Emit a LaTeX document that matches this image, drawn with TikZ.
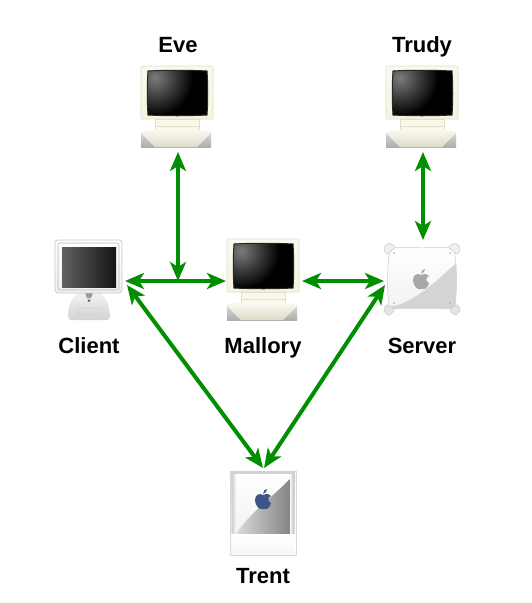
\documentclass[tikz,border=0pt]{standalone}
\usepackage{fontspec}
\setmainfont{Liberation Sans}
\usetikzlibrary{arrows.meta}
\definecolor{linkgreen}{HTML}{008F00}
\definecolor{cream}{HTML}{F6F3DF}
\definecolor{creamedge}{HTML}{E2DEC8}
\definecolor{applenavy}{HTML}{3F5585}
\tikzset{
  x=1pt,y=-1pt,
  label text/.style={font=\bfseries\fontsize{22}{24}\selectfont,text=black,inner sep=0pt,anchor=base},
  iconbox/.style={inner sep=0pt,outer sep=0pt,draw=none,minimum width=#1},
  link/.style={draw=linkgreen,line width=4pt,{Stealth[length=19pt,width=16pt,inset=5pt]}-{Stealth[length=19pt,width=16pt,inset=5pt]}},
  pics/crt/.style={code={
    % local origin at the screen centre
    \shade[top color=cream!50!white,bottom color=cream,draw=creamedge,line width=.7pt,rounded corners=1pt]
      (-36,-40) rectangle (36,13);
    \begin{scope}
      \clip (-29,-35) .. controls (-10,-36) and (10,-36) .. (30,-35) .. controls (31,-20) and (31,-5) .. (30,9) .. controls (10,10) and (-10,10) .. (-29,9) .. controls (-30,-5) and (-30,-20) .. (-29,-35) -- cycle;
      \fill[black] (-36,-40) rectangle (36,13);
      \shade[inner color=black!52,outer color=black] (-22,-28) circle (38);
    \end{scope}
    \draw[black!85,line width=1pt] (-29,-35) .. controls (-10,-36) and (10,-36) .. (30,-35) .. controls (31,-20) and (31,-5) .. (30,9) .. controls (10,10) and (-10,10) .. (-29,9) .. controls (-30,-5) and (-30,-20) .. (-29,-35) -- cycle;
    % neck
    \fill[cream!60!white,draw=creamedge,line width=.5pt] (-22,13) rectangle (22,20);
    \fill[cream!60!white,draw=creamedge,line width=.5pt] (-22,20) rectangle (22,26);
    % base
    \shade[top color=black!15,bottom color=black!32] (-36,26) -- (-36,41) -- (34,41) -- (34,26) -- cycle;
    \shade[top color=cream!50!white,bottom color=cream!90!black] (-31,24) -- (29,24) -- (34,27) -- (20,41) -- (-22,41) -- (-36,27) -- cycle;
  }},
  pics/imac/.style={code={
    % origin at the top left of the display
    \shade[top color=black!4,bottom color=black!17] (13,77) .. controls (13,62) and (20,50) .. (34,50) .. controls (48,50) and (55,62) .. (55,77) .. controls (55,80) and (53,80) .. (50,80) -- (18,80) .. controls (15,80) and (13,80) .. (13,77) -- cycle;
    \draw[black!20,line width=.5pt,rounded corners=2.5pt] (22,68) rectangle (47,74);
    \fill[black!40] (30,53) -- (38,53) -- (36,58) -- (32,58) -- cycle;
    \fill[black!60] (34,60.5) circle (1.5);
    \shade[top color=white,bottom color=black!6,draw=black!22,line width=.7pt,rounded corners=3pt] (0,0) rectangle (67,53);
    \draw[black!28,line width=.6pt,rounded corners=2pt] (3,3) rectangle (64,50);
    \shade[shading angle=150,left color=black!62,right color=black!92] (7,7) rectangle (61,47);
  }},
  pics/pmac/.style={code={
    % origin at the body centre
    \shade[top color=white,bottom color=black!5,draw=black!20,line width=.5pt]
      (-32,-32) .. controls (-10,-31) and (10,-31) .. (32,-32)
      .. controls (35,-10) and (35,10) .. (33,30)
      .. controls (10,29) and (-10,29) .. (-33,30)
      .. controls (-35,10) and (-35,-10) .. (-32,-32) -- cycle;
    \fill[black!17] (-33,28) .. controls (-8,24) and (12,4) .. (34.3,-16) .. controls (35,0) and (34,15) .. (33,30) .. controls (10,29) and (-10,29) .. (-33,30) -- cycle;
    \fill[black!30] (-28,-26) circle (1) (28,-26) circle (1) (-28,24) circle (1) (28,24) circle (1);
    \foreach \sx in {-1,1}{
      \filldraw[black!6,draw=black!22,line width=.5pt,line join=round,rounded corners=1.5pt]
        (\sx*38.7,-30.7) -- (\sx*33.7,-36.3) -- (\sx*26,-32.3) -- (\sx*35.3,-24) -- cycle;
      \filldraw[black!10,draw=black!22,line width=.5pt,line join=round,rounded corners=1.5pt]
        (\sx*38.7,31) -- (\sx*35.3,25) -- (\sx*27,31) -- (\sx*33.7,37) -- cycle;
    }
    \begin{scope}[shift={(-1,1)}]
      \pic {applemark={black!34}};
    \end{scope}
  }},
  pics/applemark/.style={code={
    \fill[#1] (0,-5) .. controls (-3,-7) and (-8,-6) .. (-8,0) .. controls (-8,5) and (-4,10) .. (-1,9)
      .. controls (0,8.5) and (1,8.5) .. (2,9) .. controls (5,10) and (8,5) .. (8,3)
      .. controls (4,1) and (5,-3) .. (8,-4) .. controls (5,-7) and (2,-6) .. (0,-5) -- cycle;
    \fill[#1] (0,-6) .. controls (0,-9) and (2,-11) .. (4,-11) .. controls (4,-9) and (3,-7) .. (0,-6) -- cycle;
  }},
  pics/tower/.style={code={
    % origin at the top left
    \fill[white,draw=black!15,line width=.5pt] (0,0) rectangle (66,84);
    \shade[top color=black!18,bottom color=black!10] (1,0) rectangle (65,63);
    \shade[top color=white,bottom color=black!5] (6,3) rectangle (60,63);
    \shade[left color=black!14,right color=black!48] (6,63) .. controls (20,42) and (40,28) .. (60,8) -- (60,63) -- cycle;
    \shade[left color=black!18,right color=black!3] (2,3) rectangle (6,62);
    \shade[left color=black!3,right color=black!25] (60,3) rectangle (64,62);
    \shade[top color=white,bottom color=black!3] (1,63) rectangle (65,83);
    \begin{scope}[shift={(33,29)}]
      \pic {applemark={applenavy}};
    \end{scope}
  }}
}
\begin{document}
\begin{tikzpicture}
\useasboundingbox (0,0) rectangle (532,603);
\fill[white] (0,0) rectangle (532,603);
% icons
\pic at (177,106) {crt};
\pic at (422,106) {crt};
\pic at (263,279) {crt};
\pic at (55,240) {imac};
\pic at (422,279) {pmac};
\pic at (230,471) {tower};
% anchors of the icons
\node[iconbox=72pt,minimum height=90pt] (eve) at (178,107) {};
\node[iconbox=72pt,minimum height=90pt] (trudy) at (423,107) {};
\node[iconbox=76pt,minimum height=81pt] (mallory) at (264,281) {};
\node[iconbox=70pt,minimum height=82pt] (client) at (90,281) {};
\node[iconbox=78pt,minimum height=82pt] (server) at (423,281) {};
\node[iconbox=66pt,minimum height=84pt] (trent) at (263,513) {};
\coordinate (tap) at (178,281);
\coordinate (clientdiag) at (127,285);
\coordinate (serverdiag) at (385,285);
\coordinate (trentl) at (263,468);
\coordinate (trentr) at (264,468);
% connectors
\draw[link] (client.east) -- (mallory.west);
\draw[link] (mallory.east) -- (server.west);
\draw[link] (tap) -- (eve.south -| tap);
\draw[link] (trudy.south) -- (server.north);
\draw[link] (clientdiag) -- (trentl);
\draw[link] (serverdiag) -- (trentr);
% labels
\node[label text] (evelabel) at (178,52) {Eve};
\node[label text] (trudylabel) at (422,52) {Trudy};
\node[label text] (clientlabel) at (89,353) {Client};
\node[label text] (mallorylabel) at (263,353) {Mallory};
\node[label text] (serverlabel) at (422,353) {Server};
\node[label text] (trentlabel) at (263,583) {Trent};
\end{tikzpicture}
\end{document}
